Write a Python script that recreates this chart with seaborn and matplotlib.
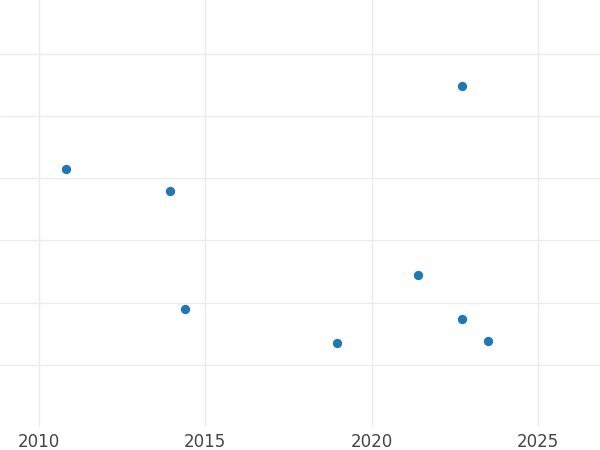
import seaborn as sns
import pandas as pd
import numpy as np
import matplotlib.pyplot as plt

# data
years = [2010.82, 2013.94, 2014.40, 2018.96, 2021.40, 2022.72, 2022.70, 2023.49]
values = [4.14, 3.79, 1.89, 1.35, 2.44, 5.49, 1.74, 1.39]
x_ticks = [2010, 2015, 2020, 2025]
y_ticks = [1, 2, 3, 4, 5, 6]

df = pd.DataFrame({"year": years, "value": values})

sns.set_theme(style="whitegrid")
plt.rcParams['font.family'] = ['DejaVu Sans']

fig = plt.figure(figsize=(6, 4.5), dpi=100)
ax = fig.add_axes([0, 0.0511, 1, 0.9489])

sns.scatterplot(data=df, x="year", y="value", color="#1f77b4", s=45,
                linewidth=0, ax=ax)

ax.set_xlim(2008.83, 2026.86)
ax.set_ylim(0, 6.865)
ax.set_xticks(x_ticks)
ax.set_yticks(y_ticks)
ax.set_yticklabels([])
ax.tick_params(axis="x", labelsize=12, labelcolor="#444444", pad=4, length=0)
ax.tick_params(axis="y", length=0)
ax.grid(True, color="#ebebeb", linewidth=1)
for s in ax.spines.values():
    s.set_visible(False)
ax.set_xlabel("")
ax.set_ylabel("")

fig.savefig("out.png", dpi=100)
